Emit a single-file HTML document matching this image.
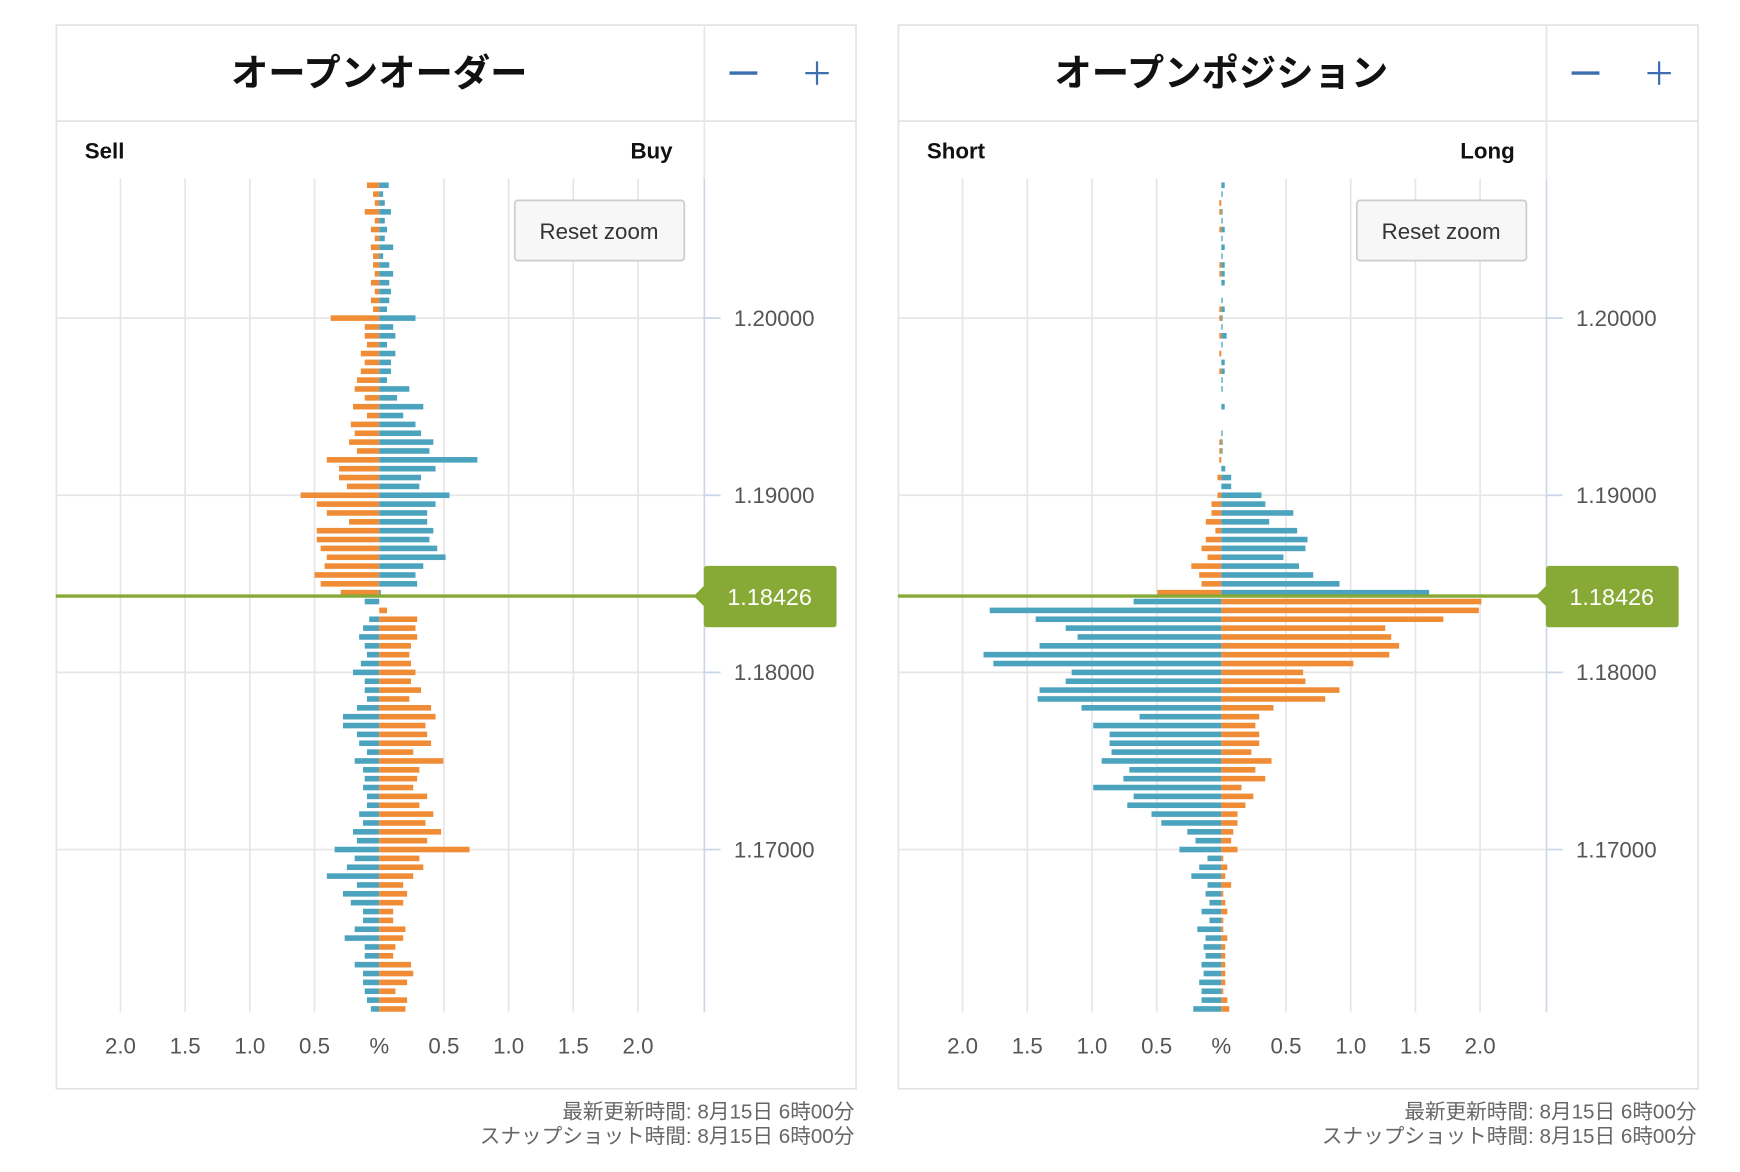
<!DOCTYPE html>
<html><head><meta charset="utf-8"><style>
html,body{margin:0;padding:0;background:#fff;}
svg{display:block;}
text{font-family:"Liberation Sans","Noto Sans CJK JP",sans-serif;}
</style></head><body>
<svg id="s" width="1740" height="1172" viewBox="0 0 1560 1050" preserveAspectRatio="none" xmlns="http://www.w3.org/2000/svg"></svg>
<script>
const S=document.getElementById('s');
let h='';
const OR='#ef8c35',BL='#4ba3bd';
function y(p){return 285+(1.2-p)*15870;}
const LA=[[11,8.5],[5.5,3.5],[4,5],[13,10.5],[4,5],[7.5,7],[4,5],[7.5,12.5],[5.5,3.5],[5.5,9],[4,12.5],[7.5,9],[4,10.5],[7.5,9],[5.5,7],[43.5,32.5],[13,12.5],[13,14.5],[11,7],[16.5,14.5],[13,10.5],[16.5,10.5],[20,7],[22,27],[13,16],[23.5,39.5],[11,21.5],[25.5,32.5],[22,37.5],[27,48.5],[20,45],[47,88],[36,50.5],[36,37.5],[29,36],[70.5,63],[56,50.5],[47,43],[27,43],[56,48.5],[56,45],[52.5,52],[47,59.5],[49,39.5],[58,32.5],[52.5,34],[34.5,1.5]];
const LB=[[13,0],[0,7],[9,34],[14.5,32.5],[18,34],[13,28.5],[11,27],[16.5,28.5],[23.5,32.5],[13,28.5],[13,37.5],[11,27],[20,46.5],[32.5,50.5],[32.5,41.5],[20,43],[18,46.5],[11,30.5],[22,57.5],[14.5,36],[13,34],[14.5,30.5],[11,43],[11,36],[18,48.5],[14.5,41.5],[23.5,55.5],[20,43],[40,81],[22,36],[29,39.5],[47,30.5],[20,21.5],[32.5,25],[25.5,21.5],[14.5,12.5],[14.5,12.5],[22,23.5],[31,21.5],[13,14.5],[13,12.5],[22,28.5],[14.5,30.5],[14.5,25],[13,14.5],[11,25],[7.5,23.5]];
const RA=[[0,.026],[0,.01],[.016,0],[.016,.01],[0,.01],[.016,.026],[0,.01],[0,.026],[0,.01],[.016,.026],[.016,.026],[0,.026],[0,0],[0,.01],[.016,.026],[.016,.01],[0,.01],[.016,.041],[0,.01],[.016,0],[0,.026],[.016,.026],[0,.01],[0,.01],[0,0],[0,.026],[0,0],[0,0],[0,.01],[.016,.01],[.016,.01],[.016,0],
[0,.03],[.03,.076],[0,.076],[.03,.31],[.076,.34],[.076,.556],[.12,.37],[.046,.586],[.12,.666],[.153,.65],[.107,.48],[.232,.6],[.171,.71],[.153,.913],[.495,1.606]];
const RB=[[.678,2.01],[1.79,1.99],[1.435,1.716],[1.203,1.267],[1.111,1.313],[1.405,1.374],[1.838,1.298],[1.762,1.02],[1.157,.632],[1.203,.65],[1.405,.913],[1.42,.803],[1.081,.403],[.632,.293],[.99,.263],[.864,.293],[.864,.293],[.849,.232],[.925,.388],[.711,.263],[.757,.339],[.99,.156],[.678,.247],[.727,.186],[.54,.125],[.464,.125],[.263,.092],[.2,.076],[.324,.125],[.107,.015],[.171,.046],[.232,.03],[.107,.076],[.122,.015],[.092,.03],[.153,.046],[.092,.015],[.186,.015],[.122,.046],[.137,.03],[.122,.03],[.153,.03],[.137,.03],[.171,.03],[.153,.015],[.153,.046],[.217,.061]];
function panel(ox,title,ll,rl,A,B,scale){
  const z=ox+340;
  h+=`<rect x="${ox+50.5}" y="22.5" width="717" height="953" fill="#fff" stroke="#e3e3e3" stroke-width="1.5"/>`;
  h+=`<line x1="${ox+50}" y1="108.5" x2="${ox+767}" y2="108.5" stroke="#e3e3e3" stroke-width="1.5"/>`;
  h+=`<line x1="${ox+631.5}" y1="22" x2="${ox+631.5}" y2="160" stroke="#e6e6e6" stroke-width="1.5"/>`;
  h+=`<text x="${ox+340}" y="77" text-anchor="middle" font-size="33.5" font-weight="bold" fill="#111">${title}</text>`;
  h+=`<line x1="${ox+654}" y1="65.5" x2="${ox+679}" y2="65.5" stroke="#3d6eb0" stroke-width="3"/>`;
  h+=`<line x1="${ox+722}" y1="65.5" x2="${ox+743}" y2="65.5" stroke="#3d6eb0" stroke-width="2"/><line x1="${ox+732.5}" y1="55" x2="${ox+732.5}" y2="76" stroke="#3d6eb0" stroke-width="2"/>`;
  h+=`<text x="${ox+76}" y="142" font-size="20" font-weight="bold" fill="#111">${ll}</text>`;
  h+=`<text x="${ox+603}" y="142" text-anchor="end" font-size="20" font-weight="bold" fill="#111">${rl}</text>`;
  const gx=[-4,-3,-2,-1,1,2,3,4];
  gx.forEach(i=>{h+=`<line x1="${z+i*58}" y1="160" x2="${z+i*58}" y2="907" stroke="#e6e6e6" stroke-width="1.5"/>`;});
  [1.2,1.19,1.18,1.17].forEach(p=>{const yy=y(p);
    h+=`<line x1="${ox+50}" y1="${yy}" x2="${ox+646}" y2="${yy}" stroke="#e6e6e6" stroke-width="1.5"/>`;
    h+=`<line x1="${ox+631}" y1="${yy}" x2="${ox+646}" y2="${yy}" stroke="#ccd6eb" stroke-width="1.5"/>`;
    h+=`<text x="${ox+658}" y="${yy+7}" font-size="20" fill="#555">${p.toFixed(5)}</text>`;});
  h+=`<line x1="${ox+631.5}" y1="160" x2="${ox+631.5}" y2="907" stroke="#ccd6eb" stroke-width="1.5"/>`;
  const bw=5;
  A.forEach((d,i)=>{const yy=y(1.2075-i*0.0005)-bw/2;const l=d[0]*scale,r=d[1]*scale;
    if(l>0)h+=`<rect x="${z-l}" y="${yy}" width="${l}" height="${bw}" fill="${OR}"/>`;
    if(r>0)h+=`<rect x="${z}" y="${yy}" width="${r}" height="${bw}" fill="${BL}"/>`;});
  B.forEach((d,i)=>{const yy=y(1.184-i*0.0005)-bw/2;const l=d[0]*scale,r=d[1]*scale;
    if(l>0)h+=`<rect x="${z-l}" y="${yy}" width="${l}" height="${bw}" fill="${BL}"/>`;
    if(r>0)h+=`<rect x="${z}" y="${yy}" width="${r}" height="${bw}" fill="${OR}"/>`;});
  const labs=['2.0','1.5','1.0','0.5','%','0.5','1.0','1.5','2.0'];
  labs.forEach((t,i)=>{h+=`<text x="${z+(i-4)*58}" y="944" text-anchor="middle" font-size="20" fill="#555">${t}</text>`;});
  h+=`<line x1="${ox+50}" y1="534" x2="${ox+625}" y2="534" stroke="#87a936" stroke-width="3"/>`;
  h+=`<path d="M${ox+622} 534 L${ox+631} 525 L${ox+631} 510 Q${ox+631} 507 ${ox+634} 507 L${ox+747} 507 Q${ox+750} 507 ${ox+750} 510 L${ox+750} 559 Q${ox+750} 562 ${ox+747} 562 L${ox+634} 562 Q${ox+631} 562 ${ox+631} 559 L${ox+631} 543 Z" fill="#87a936"/>`;
  h+=`<text x="${ox+690}" y="542" text-anchor="middle" font-size="21" fill="#fff">1.18426</text>`;
  h+=`<rect x="${ox+461.5}" y="179.5" width="152" height="54" rx="3" fill="#f7f7f7" stroke="#cccccc" stroke-width="1.5"/>`;
  h+=`<text x="${ox+537}" y="214" text-anchor="middle" font-size="20" fill="#333">Reset zoom</text>`;
  h+=`<text x="${ox+766}" y="1002" text-anchor="end" font-size="18.5" fill="#666">最新更新時間: 8月15日 6時00分</text>`;
  h+=`<text x="${ox+766}" y="1024" text-anchor="end" font-size="18.5" fill="#666">スナップショット時間: 8月15日 6時00分</text>`;
}
panel(0,'オープンオーダー','Sell','Buy',LA,LB,1);
panel(755,'オープンポジション','Short','Long',RA,RB,116);
S.innerHTML=h;
</script>
</body></html>
